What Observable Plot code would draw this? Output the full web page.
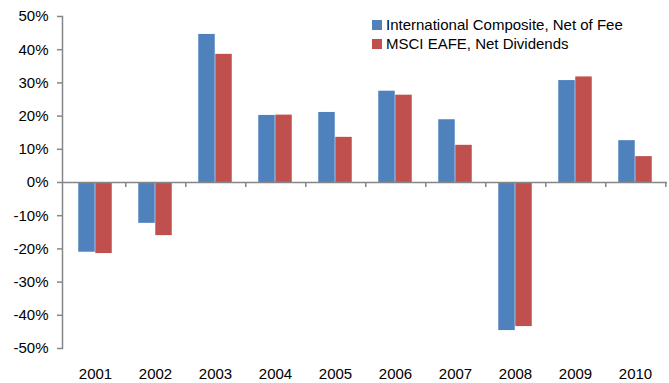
<!DOCTYPE html>
<html>
<head>
<meta charset="utf-8">
<script src="https://cdn.jsdelivr.net/npm/d3@7"></script>
<script src="https://cdn.jsdelivr.net/npm/@observablehq/plot@0.6"></script>
<style>
  body { margin: 0; background: #fff; }
  #wrap { position: relative; width: 669px; height: 383px; font-family: "Liberation Sans", Arial, sans-serif; }
  #legend { position: absolute; left: 372px; top: 16px; font-size: 15px; color: #000; line-height: 18.6px; }
  #legend .item { display: flex; align-items: center; white-space: nowrap; }
  #legend .sw { width: 10px; height: 10px; margin-right: 4px; }
</style>
</head>
<body>
<div id="wrap"><div id="legend"></div></div>
<script>
const years = ["2001","2002","2003","2004","2005","2006","2007","2008","2009","2010"];
const seriesNames = ["International Composite, Net of Fee", "MSCI EAFE, Net Dividends"];
const composite = [-21.0, -12.3, 44.6, 20.2, 21.1, 27.5, 18.9, -44.6, 30.7, 12.6];
const eafe = [-21.4, -16.0, 38.6, 20.3, 13.6, 26.3, 11.2, -43.4, 31.8, 7.8];
const yTicks = [-50, -40, -30, -20, -10, 0, 10, 20, 30, 40, 50];
const colors = ["#4F81BD", "#C0504D"];

const compData = years.map((y, i) => ({year: y, value: composite[i]}));
const eafeData = years.map((y, i) => ({year: y, value: eafe[i]}));

const gray = "#868686";
const bandW = (669 - 62 - 2) / years.length;
const outer = (bandW - 34) / 2;

const chart = Plot.plot({
  width: 669,
  height: 383,
  marginLeft: 62,
  marginRight: 2,
  marginTop: 16,
  marginBottom: 35,
  style: {fontFamily: "Liberation Sans, Arial, sans-serif", fontSize: "15px", color: "#000", background: "#fff"},
  x: {type: "band", domain: years, padding: 0, label: null},
  y: {domain: [-50, 50], label: null},
  marks: [
    Plot.barY(compData, {x: "year", y: "value", fill: colors[0], insetLeft: outer, insetRight: outer + 17}),
    Plot.barY(eafeData, {x: "year", y: "value", fill: colors[1], insetLeft: outer + 17, insetRight: outer}),
    Plot.ruleY([0], {stroke: gray, strokeWidth: 1.5}),
    Plot.ruleX(years, {x: d => d, dx: bandW / 2, y1: 0, y2: -1.5, stroke: gray, strokeWidth: 1.5}),
    Plot.frame({anchor: "left", stroke: gray, strokeWidth: 1.5}),
    Plot.axisY({ticks: yTicks, tickFormat: d => d + "%", tickSize: 5, tickPadding: 9, stroke: gray, strokeWidth: 1.5, fill: "#000", label: null}),
    Plot.axisX({tickSize: 0, tickPadding: 20, fill: "#000", label: null})
  ]
});
document.getElementById("wrap").prepend(chart);

const legend = document.getElementById("legend");
seriesNames.forEach((name, i) => {
  const item = document.createElement("div");
  item.className = "item";
  const sw = document.createElement("span");
  sw.className = "sw";
  sw.style.background = colors[i];
  const t = document.createElement("span");
  t.textContent = name;
  item.appendChild(sw);
  item.appendChild(t);
  legend.appendChild(item);
});
</script>
</body>
</html>
